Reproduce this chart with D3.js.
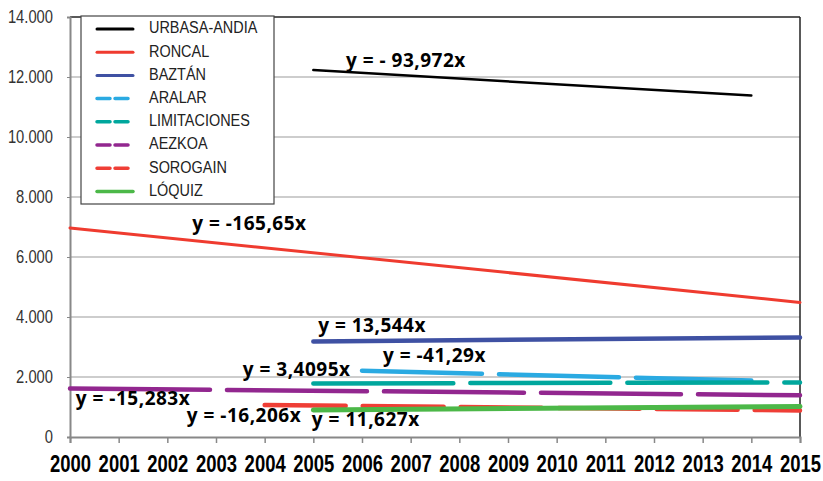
<!DOCTYPE html>
<html><head><meta charset="utf-8">
<script src="https://cdn.jsdelivr.net/npm/d3@7"></script>
<style>
html,body{margin:0;padding:0;background:#fff;}
svg{display:block;}
</style></head>
<body>
<svg id="chart" width="823" height="481"></svg>
<script>
// ---- data ----
const yearTicks = [2000,2001,2002,2003,2004,2005,2006,2007,2008,2009,2010,2011,2012,2013,2014,2015];
const yTicks = [0,2000,4000,6000,8000,10000,12000,14000];
const seriesNames = ["URBASA-ANDIA","RONCAL","BAZTÁN","ARALAR","LIMITACIONES","AEZKOA","SOROGAIN","LÓQUIZ"];
const seriesYears = [[2005,2014],[2000,2015],[2005,2015],[2006,2014],[2005,2015],[2000,2015],[2004,2015],[2005,2015]];
const seriesValues = [[12230,11384],[6970,4485],[3185,3320],[2210,1880],[1785,1820],[1620,1390],[1065,885],[900,1015]];
const equationLabels = ["y = - 93,972x","y = -165,65x","y = 13,544x","y = -41,29x","y = 3,4095x","y = -15,283x","y = -16,206x","y = 11,627x"];

// ---- styles / layout ----
const colors = ["#000000","#ef3b2f","#3f51a3","#2aaae2","#00a79d","#92278f","#ef3e36","#4cb848"];
const widths = [2.5,3,4.5,4.5,4.5,4.5,4.5,5];
const dashes = [null,null,null,"120,17","140,17","140,17","81,17",null];
const legendDashes = [null,null,null,"13,5,13,5,3","13,5,13,5,3","13,5,13,5,3","13,5,13,5,3",null];
const labelAnchors = [[2005.67,12500],[2002.51,7067],[2005.10,3667],[2006.43,2667],[2003.55,2200],[2000.12,1233],[2002.40,667],[2004.97,533]];

const svg = d3.select("#chart");
const L = 70, R = 800, T = 17, B = 437;
const x = d3.scaleLinear().domain([2000,2015]).range([L,R]);
const y = d3.scaleLinear().domain([0,14000]).range([B,T]);
const sans = "'Liberation Sans',Arial,sans-serif";
const SX = 0.82, SXX = 0.77;

// gridlines
svg.append("g").selectAll("line").data(yTicks.filter(d=>d>0 && d<14000)).join("line")
  .attr("x1",L).attr("x2",R).attr("y1",d=>y(d)).attr("y2",d=>y(d))
  .attr("stroke","#bdbdbd").attr("stroke-width",1.5);

// top & right border
svg.append("line").attr("x1",L).attr("x2",R).attr("y1",y(14000)).attr("y2",y(14000)).attr("stroke","#222").attr("stroke-width",1.5);
svg.append("line").attr("x1",R).attr("x2",R).attr("y1",y(14000)).attr("y2",B).attr("stroke","#222").attr("stroke-width",1.5);

// y axis
const yAxis = svg.append("g").attr("transform",`translate(${L},0)`)
  .call(d3.axisLeft(y).tickValues(yTicks).tickSize(3).tickPadding(14)
    .tickFormat(d=>d3.format(",")(d).replace(/,/g,".")));
yAxis.select(".domain").attr("stroke","#888").attr("stroke-width",2);
yAxis.selectAll(".tick line").attr("stroke","#888");
yAxis.selectAll("text").attr("font-family",sans).attr("font-size",18).attr("fill","#333")
  .attr("x",-17/SX).attr("transform",`scale(${SX},1)`);

// x axis
const xAxis = svg.append("g").attr("transform",`translate(0,${B})`)
  .call(d3.axisBottom(x).tickValues(yearTicks).tickSize(6).tickPadding(12).tickFormat(d3.format("d")));
xAxis.select(".domain").attr("stroke","#888").attr("stroke-width",2);
xAxis.selectAll(".tick line").attr("stroke","#888").attr("stroke-width",1.5);
xAxis.selectAll("text").attr("font-family",sans).attr("font-size",24).attr("font-weight","bold").attr("fill","#000")
  .attr("transform",`scale(${SXX},1)`);

// series lines
const line = d3.line().x(d=>x(d[0])).y(d=>y(d[1]));
seriesNames.forEach((n,i)=>{
  const pts = seriesYears[i].map((yr,j)=>[yr,seriesValues[i][j]]);
  svg.append("path").datum(pts).attr("d",line)
    .attr("fill","none").attr("stroke",colors[i]).attr("stroke-width",widths[i])
    .attr("stroke-dasharray",dashes[i]).attr("stroke-linecap","round");
});

// equation labels
svg.append("g").selectAll("text").data(equationLabels).join("text")
  .attr("x",(d,i)=>x(labelAnchors[i][0])).attr("y",(d,i)=>y(labelAnchors[i][1]))
  .attr("dominant-baseline","middle")
  .attr("font-family","'Open Sans',Lato,sans-serif")
  .attr("font-weight","bold").attr("font-size",19).attr("letter-spacing",0.5).attr("fill","#000")
  .text(d=>d);

// legend
const lg = svg.append("g");
lg.append("rect").attr("x",81).attr("y",16).attr("width",193).attr("height",188)
  .attr("fill","#fff").attr("stroke","#444").attr("stroke-width",1.2);
seriesNames.forEach((n,i)=>{
  const yy = 29 + i*23.2;
  lg.append("line").attr("x1",97).attr("x2",133).attr("y1",yy).attr("y2",yy)
    .attr("stroke",colors[i]).attr("stroke-width",i<3?3:3.5)
    .attr("stroke-dasharray",legendDashes[i]).attr("stroke-linecap","round");
  lg.append("text").attr("transform",`translate(149,${yy}) scale(0.85,1)`)
    .attr("dominant-baseline","middle")
    .attr("font-family",sans).attr("font-size",17).attr("fill","#222").text(n);
});
</script>
</body></html>
